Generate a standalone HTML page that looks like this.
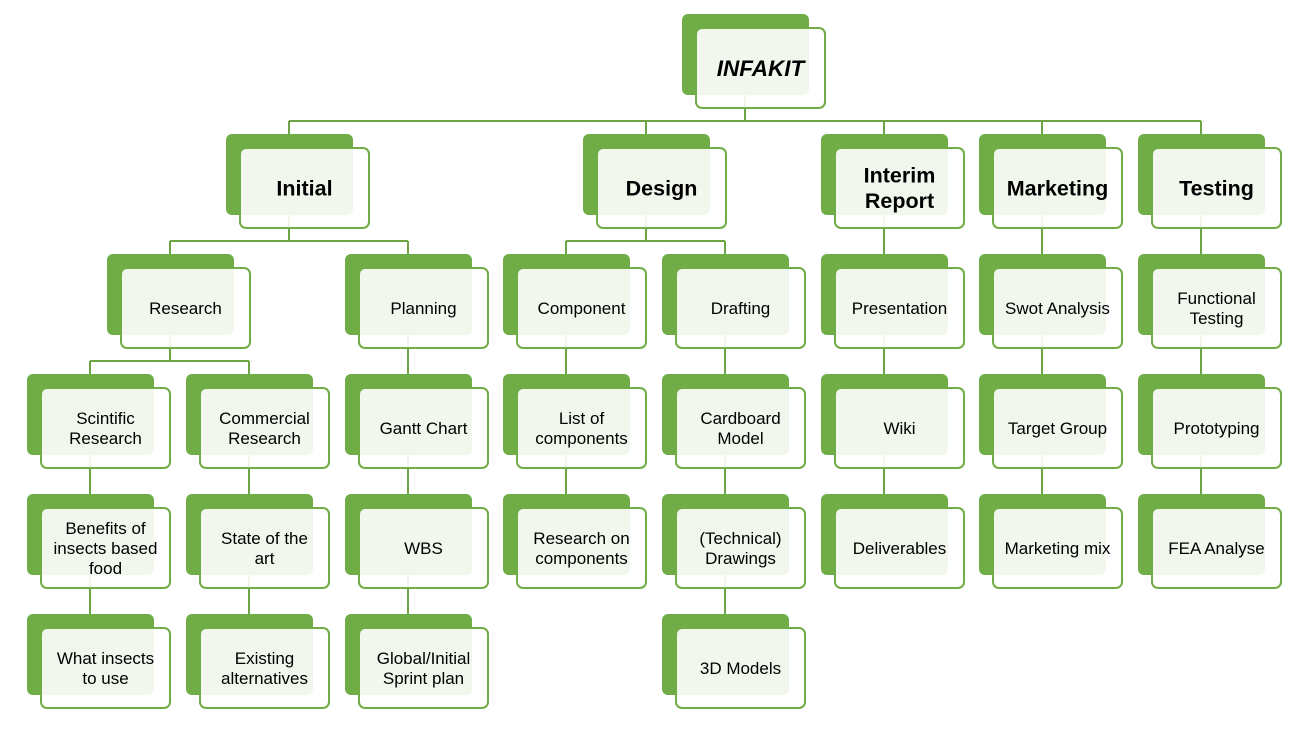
<!DOCTYPE html>
<html>
<head>
<meta charset="utf-8">
<style>
html,body{margin:0;padding:0;background:#fff;}
svg{display:block;}
.b{fill:#70ad47;}
.f{fill:#fff;fill-opacity:.9;stroke:#70ad47;stroke-width:2;}
.l{fill:none;stroke:#6ea544;stroke-width:2;}
text{font-family:"Liberation Sans",Arial,sans-serif;fill:#000;text-anchor:middle;}
.t{font-size:17px;}
.h{font-size:21.5px;font-weight:bold;}
.top{font-size:22.5px;font-weight:bold;font-style:italic;}
</style>
</head>
<body>
<svg width="1309" height="742" viewBox="0 0 1309 742" xmlns="http://www.w3.org/2000/svg">
<!-- connectors -->
<path class="l" d="M745 95V121 M289 121H1201 M289 121V134 M646 121V134 M884 121V134 M1042 121V134 M1201 121V134"/>
<path class="l" d="M289 215V241 M170 241H408 M170 241V254 M408 241V254
M646 215V241 M566 241H725 M566 241V254 M725 241V254
M884 215V254 M1042 215V254 M1201 215V254"/>
<path class="l" d="M170 335V361 M90 361H249 M90 361V374 M249 361V374
M408 335V374 M566 335V374 M725 335V374 M884 335V374 M1042 335V374 M1201 335V374"/>
<path class="l" d="M90 455V494 M249 455V494 M408 455V494 M566 455V494 M725 455V494 M884 455V494 M1042 455V494 M1201 455V494"/>
<path class="l" d="M90 575V614 M249 575V614 M408 575V614 M725 575V614"/>

<!-- top -->
<g transform="translate(682,14)"><rect class="b" width="127" height="81" rx="6"/><rect class="f" x="14" y="14" width="129" height="80" rx="6"/><text class="top" x="78.5" y="62">INFAKIT</text></g>

<!-- row 1 -->
<g transform="translate(226,134)"><rect class="b" width="127" height="81" rx="6"/><rect class="f" x="14" y="14" width="129" height="80" rx="6"/><text class="h" x="78.5" y="61.5">Initial</text></g>
<g transform="translate(583,134)"><rect class="b" width="127" height="81" rx="6"/><rect class="f" x="14" y="14" width="129" height="80" rx="6"/><text class="h" x="78.5" y="61.5">Design</text></g>
<g transform="translate(821,134)"><rect class="b" width="127" height="81" rx="6"/><rect class="f" x="14" y="14" width="129" height="80" rx="6"/><text class="h" x="78.5" y="48.5">Interim</text><text class="h" x="78.5" y="74">Report</text></g>
<g transform="translate(979,134)"><rect class="b" width="127" height="81" rx="6"/><rect class="f" x="14" y="14" width="129" height="80" rx="6"/><text class="h" x="78.5" y="61.5">Marketing</text></g>
<g transform="translate(1138,134)"><rect class="b" width="127" height="81" rx="6"/><rect class="f" x="14" y="14" width="129" height="80" rx="6"/><text class="h" x="78.5" y="61.5">Testing</text></g>

<!-- row 2 -->
<g transform="translate(107,254)"><rect class="b" width="127" height="81" rx="6"/><rect class="f" x="14" y="14" width="129" height="80" rx="6"/><text class="t" x="78.5" y="60">Research</text></g>
<g transform="translate(345,254)"><rect class="b" width="127" height="81" rx="6"/><rect class="f" x="14" y="14" width="129" height="80" rx="6"/><text class="t" x="78.5" y="60">Planning</text></g>
<g transform="translate(503,254)"><rect class="b" width="127" height="81" rx="6"/><rect class="f" x="14" y="14" width="129" height="80" rx="6"/><text class="t" x="78.5" y="60">Component</text></g>
<g transform="translate(662,254)"><rect class="b" width="127" height="81" rx="6"/><rect class="f" x="14" y="14" width="129" height="80" rx="6"/><text class="t" x="78.5" y="60">Drafting</text></g>
<g transform="translate(821,254)"><rect class="b" width="127" height="81" rx="6"/><rect class="f" x="14" y="14" width="129" height="80" rx="6"/><text class="t" x="78.5" y="60">Presentation</text></g>
<g transform="translate(979,254)"><rect class="b" width="127" height="81" rx="6"/><rect class="f" x="14" y="14" width="129" height="80" rx="6"/><text class="t" x="78.5" y="60">Swot Analysis</text></g>
<g transform="translate(1138,254)"><rect class="b" width="127" height="81" rx="6"/><rect class="f" x="14" y="14" width="129" height="80" rx="6"/><text class="t" x="78.5" y="50">Functional</text><text class="t" x="78.5" y="70">Testing</text></g>

<!-- row 3 -->
<g transform="translate(27,374)"><rect class="b" width="127" height="81" rx="6"/><rect class="f" x="14" y="14" width="129" height="80" rx="6"/><text class="t" x="78.5" y="50">Scintific</text><text class="t" x="78.5" y="70">Research</text></g>
<g transform="translate(186,374)"><rect class="b" width="127" height="81" rx="6"/><rect class="f" x="14" y="14" width="129" height="80" rx="6"/><text class="t" x="78.5" y="50">Commercial</text><text class="t" x="78.5" y="70">Research</text></g>
<g transform="translate(345,374)"><rect class="b" width="127" height="81" rx="6"/><rect class="f" x="14" y="14" width="129" height="80" rx="6"/><text class="t" x="78.5" y="60">Gantt Chart</text></g>
<g transform="translate(503,374)"><rect class="b" width="127" height="81" rx="6"/><rect class="f" x="14" y="14" width="129" height="80" rx="6"/><text class="t" x="78.5" y="50">List of</text><text class="t" x="78.5" y="70">components</text></g>
<g transform="translate(662,374)"><rect class="b" width="127" height="81" rx="6"/><rect class="f" x="14" y="14" width="129" height="80" rx="6"/><text class="t" x="78.5" y="50">Cardboard</text><text class="t" x="78.5" y="70">Model</text></g>
<g transform="translate(821,374)"><rect class="b" width="127" height="81" rx="6"/><rect class="f" x="14" y="14" width="129" height="80" rx="6"/><text class="t" x="78.5" y="60">Wiki</text></g>
<g transform="translate(979,374)"><rect class="b" width="127" height="81" rx="6"/><rect class="f" x="14" y="14" width="129" height="80" rx="6"/><text class="t" x="78.5" y="60">Target Group</text></g>
<g transform="translate(1138,374)"><rect class="b" width="127" height="81" rx="6"/><rect class="f" x="14" y="14" width="129" height="80" rx="6"/><text class="t" x="78.5" y="60">Prototyping</text></g>

<!-- row 4 -->
<g transform="translate(27,494)"><rect class="b" width="127" height="81" rx="6"/><rect class="f" x="14" y="14" width="129" height="80" rx="6"/><text class="t" x="78.5" y="40">Benefits of</text><text class="t" x="78.5" y="60">insects based</text><text class="t" x="78.5" y="80">food</text></g>
<g transform="translate(186,494)"><rect class="b" width="127" height="81" rx="6"/><rect class="f" x="14" y="14" width="129" height="80" rx="6"/><text class="t" x="78.5" y="50">State of the</text><text class="t" x="78.5" y="70">art</text></g>
<g transform="translate(345,494)"><rect class="b" width="127" height="81" rx="6"/><rect class="f" x="14" y="14" width="129" height="80" rx="6"/><text class="t" x="78.5" y="60">WBS</text></g>
<g transform="translate(503,494)"><rect class="b" width="127" height="81" rx="6"/><rect class="f" x="14" y="14" width="129" height="80" rx="6"/><text class="t" x="78.5" y="50">Research on</text><text class="t" x="78.5" y="70">components</text></g>
<g transform="translate(662,494)"><rect class="b" width="127" height="81" rx="6"/><rect class="f" x="14" y="14" width="129" height="80" rx="6"/><text class="t" x="78.5" y="50">(Technical)</text><text class="t" x="78.5" y="70">Drawings</text></g>
<g transform="translate(821,494)"><rect class="b" width="127" height="81" rx="6"/><rect class="f" x="14" y="14" width="129" height="80" rx="6"/><text class="t" x="78.5" y="60">Deliverables</text></g>
<g transform="translate(979,494)"><rect class="b" width="127" height="81" rx="6"/><rect class="f" x="14" y="14" width="129" height="80" rx="6"/><text class="t" x="78.5" y="60">Marketing mix</text></g>
<g transform="translate(1138,494)"><rect class="b" width="127" height="81" rx="6"/><rect class="f" x="14" y="14" width="129" height="80" rx="6"/><text class="t" x="78.5" y="60">FEA Analyse</text></g>

<!-- row 5 -->
<g transform="translate(27,614)"><rect class="b" width="127" height="81" rx="6"/><rect class="f" x="14" y="14" width="129" height="80" rx="6"/><text class="t" x="78.5" y="50">What insects</text><text class="t" x="78.5" y="70">to use</text></g>
<g transform="translate(186,614)"><rect class="b" width="127" height="81" rx="6"/><rect class="f" x="14" y="14" width="129" height="80" rx="6"/><text class="t" x="78.5" y="50">Existing</text><text class="t" x="78.5" y="70">alternatives</text></g>
<g transform="translate(345,614)"><rect class="b" width="127" height="81" rx="6"/><rect class="f" x="14" y="14" width="129" height="80" rx="6"/><text class="t" x="78.5" y="50">Global/Initial</text><text class="t" x="78.5" y="70">Sprint plan</text></g>
<g transform="translate(662,614)"><rect class="b" width="127" height="81" rx="6"/><rect class="f" x="14" y="14" width="129" height="80" rx="6"/><text class="t" x="78.5" y="60">3D Models</text></g>
</svg>
</body>
</html>
